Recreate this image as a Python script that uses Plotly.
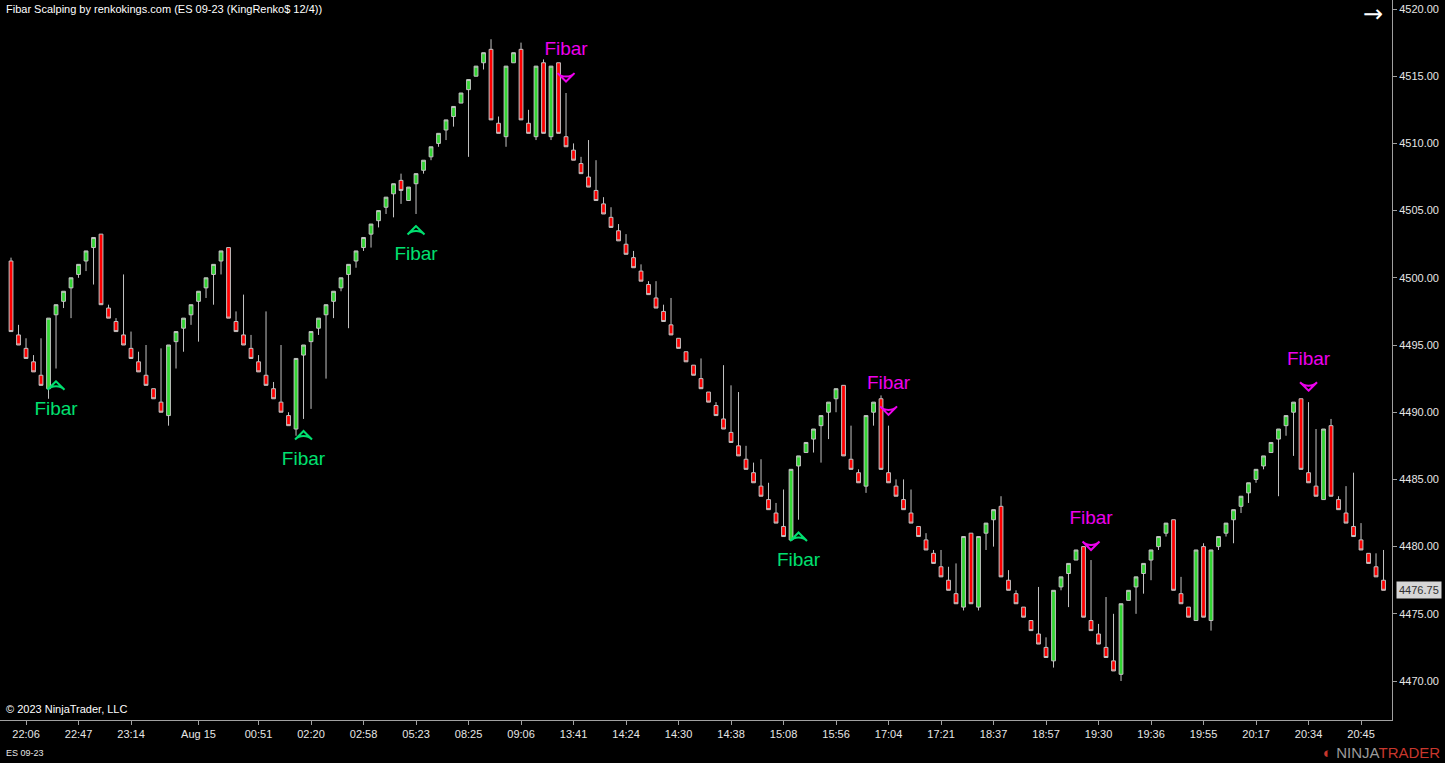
import plotly.graph_objects as go

# ---- data ----
open_ = [4501.25, 4495.75, 4494.75, 4493.75, 4492.75, 4491.75, 4497.25, 4498.25, 4499.25, 4500.25,
         4501.25, 4502.25, 4503.25, 4497.75, 4496.75, 4495.75, 4494.75, 4493.75, 4492.75, 4491.75,
         4490.75, 4489.75, 4495.25, 4496.25, 4497.25, 4498.25, 4499.25, 4500.25, 4501.25, 4502.25,
         4496.75, 4495.75, 4494.75, 4493.75, 4492.75, 4491.75, 4490.75, 4489.75, 4488.75, 4494.25,
         4495.25, 4496.25, 4497.25, 4498.25, 4499.25, 4500.25, 4501.25, 4502.25, 4503.25, 4504.25,
         4505.25, 4506.25, 4507.25, 4505.75, 4507.0, 4508.0, 4509.0, 4510.0, 4511.0, 4512.0,
         4513.0, 4514.0, 4515.0, 4516.0, 4517.0, 4511.5, 4510.5, 4516.0, 4517.0, 4511.5,
         4510.5, 4516.0, 4510.5, 4516.0, 4510.5, 4509.5, 4508.5, 4507.5, 4506.5, 4505.5,
         4504.5, 4503.5, 4502.5, 4501.5, 4500.5, 4499.5, 4498.5, 4497.5, 4496.5, 4495.5,
         4494.5, 4493.5, 4492.5, 4491.5, 4490.5, 4489.5, 4488.5, 4487.5, 4486.5, 4485.5,
         4484.5, 4483.5, 4482.5, 4481.5, 4480.5, 4486.0, 4487.0, 4488.0, 4489.0, 4490.0,
         4491.0, 4492.0, 4486.5, 4485.5, 4484.5, 4490.0, 4491.0, 4485.5, 4484.5, 4483.5,
         4482.5, 4481.5, 4480.5, 4479.5, 4478.5, 4477.5, 4476.5, 4475.5, 4481.0, 4475.5,
         4481.0, 4482.0, 4483.0, 4477.5, 4476.5, 4475.5, 4474.5, 4473.5, 4472.5, 4471.5,
         4477.0, 4478.0, 4479.0, 4480.0, 4474.5, 4473.5, 4472.5, 4471.5, 4470.5, 4476.0,
         4477.0, 4478.0, 4479.0, 4480.0, 4481.0, 4482.0, 4476.5, 4475.5, 4474.5, 4480.0,
         4474.5, 4480.0, 4481.0, 4482.0, 4483.0, 4484.0, 4485.0, 4486.0, 4487.0, 4488.0,
         4489.0, 4490.0, 4491.0, 4485.5, 4484.5, 4483.5, 4489.0, 4483.5, 4482.5, 4481.5,
         4480.5, 4479.5, 4478.5, 4477.5]
high = [4501.5, 4496.5, 4495.5, 4494.25, 4495.5, 4497.0, 4498.0, 4499.0, 4500.0, 4501.0,
        4502.0, 4503.0, 4503.25, 4498.0, 4497.0, 4500.25, 4496.0, 4494.5, 4495.0, 4491.75,
        4494.75, 4495.0, 4496.0, 4497.0, 4498.0, 4499.0, 4500.0, 4501.0, 4502.0, 4502.25,
        4497.5, 4498.75, 4495.75, 4494.25, 4497.5, 4492.25, 4495.0, 4490.0, 4494.0, 4495.0,
        4496.0, 4497.0, 4498.0, 4499.0, 4500.0, 4501.0, 4502.0, 4503.0, 4504.0, 4505.0,
        4506.0, 4507.0, 4507.75, 4506.75, 4507.75, 4508.75, 4509.75, 4510.75, 4511.75, 4512.75,
        4513.75, 4514.75, 4515.75, 4516.75, 4517.75, 4512.0, 4515.75, 4516.75, 4517.5, 4512.5,
        4515.75, 4516.25, 4515.75, 4516.0, 4513.75, 4510.0, 4509.0, 4510.25, 4508.75, 4506.0,
        4505.25, 4504.0, 4503.25, 4502.0, 4501.0, 4499.75, 4499.75, 4498.0, 4498.5, 4495.5,
        4494.5, 4493.5, 4494.0, 4491.5, 4490.75, 4493.5, 4492.0, 4491.5, 4487.5, 4486.25,
        4486.5, 4484.75, 4483.25, 4484.25, 4485.75, 4486.75, 4487.75, 4488.75, 4489.75, 4490.75,
        4491.75, 4492.0, 4489.0, 4485.75, 4489.75, 4490.75, 4491.25, 4489.0, 4485.0, 4485.0,
        4484.25, 4481.5, 4481.0, 4479.75, 4479.75, 4478.5, 4478.75, 4480.75, 4481.0, 4480.75,
        4481.75, 4482.75, 4483.75, 4478.25, 4476.75, 4475.5, 4474.5, 4477.0, 4473.25, 4476.75,
        4477.75, 4478.75, 4479.75, 4480.0, 4479.0, 4474.25, 4476.25, 4475.0, 4475.75, 4476.75,
        4477.75, 4478.75, 4479.75, 4480.75, 4481.75, 4482.0, 4477.75, 4475.5, 4479.75, 4480.25,
        4479.75, 4480.75, 4481.75, 4482.75, 4483.75, 4484.75, 4485.75, 4486.75, 4487.75, 4488.75,
        4489.75, 4490.75, 4491.0, 4490.75, 4488.75, 4488.75, 4489.5, 4483.75, 4484.5, 4485.5,
        4481.75, 4479.5, 4479.5, 4479.75]
low = [4496.0, 4495.0, 4494.0, 4493.0, 4492.0, 4491.0, 4493.25, 4497.75, 4497.0, 4500.0,
       4500.5, 4499.5, 4498.0, 4497.0, 4496.0, 4495.0, 4494.0, 4493.0, 4492.0, 4491.0,
       4490.0, 4489.0, 4493.25, 4494.5, 4496.5, 4495.25, 4498.5, 4498.0, 4500.25, 4497.0,
       4496.0, 4495.0, 4494.0, 4493.0, 4492.0, 4491.0, 4490.0, 4489.0, 4488.25, 4489.5,
       4490.25, 4495.75, 4492.5, 4497.0, 4499.0, 4496.25, 4500.75, 4502.0, 4502.25, 4503.75,
       4504.75, 4504.5, 4505.5, 4505.75, 4504.75, 4507.75, 4508.75, 4509.75, 4510.25, 4511.25,
       4513.0, 4509.0, 4515.0, 4515.5, 4511.75, 4510.75, 4509.75, 4516.0, 4511.75, 4510.75,
       4510.25, 4510.75, 4510.25, 4510.75, 4509.75, 4508.75, 4507.75, 4506.75, 4505.75, 4504.75,
       4503.75, 4502.75, 4501.75, 4500.75, 4499.75, 4498.75, 4497.75, 4496.75, 4495.75, 4494.75,
       4493.75, 4492.75, 4491.75, 4490.75, 4489.75, 4488.75, 4487.75, 4486.75, 4485.75, 4484.75,
       4483.75, 4482.75, 4481.75, 4480.75, 4480.5, 4482.0, 4487.0, 4487.0, 4486.25, 4488.0,
       4490.0, 4486.75, 4485.75, 4484.75, 4484.0, 4489.0, 4485.75, 4484.75, 4483.75, 4482.75,
       4481.75, 4480.75, 4479.75, 4478.75, 4477.75, 4476.75, 4475.75, 4475.25, 4475.75, 4475.25,
       4479.75, 4480.0, 4477.75, 4476.75, 4475.75, 4474.75, 4473.75, 4472.75, 4471.75, 4471.0,
       4476.75, 4475.5, 4479.0, 4474.75, 4473.75, 4472.75, 4471.75, 4470.75, 4470.0, 4476.0,
       4475.0, 4476.5, 4477.5, 4479.75, 4480.75, 4476.75, 4475.75, 4474.75, 4474.5, 4474.75,
       4473.75, 4479.75, 4480.75, 4480.25, 4482.5, 4483.25, 4484.75, 4485.75, 4487.0, 4483.75,
       4488.25, 4486.75, 4485.75, 4484.75, 4483.75, 4483.5, 4483.75, 4482.75, 4481.75, 4480.75,
       4479.75, 4478.75, 4477.75, 4476.75]
close = [4496.0, 4495.0, 4494.0, 4493.0, 4492.0, 4497.0, 4498.0, 4499.0, 4500.0, 4501.0,
         4502.0, 4503.0, 4498.0, 4497.0, 4496.0, 4495.0, 4494.0, 4493.0, 4492.0, 4491.0,
         4490.0, 4495.0, 4496.0, 4497.0, 4498.0, 4499.0, 4500.0, 4501.0, 4502.0, 4497.0,
         4496.0, 4495.0, 4494.0, 4493.0, 4492.0, 4491.0, 4490.0, 4489.0, 4494.0, 4495.0,
         4496.0, 4497.0, 4498.0, 4499.0, 4500.0, 4501.0, 4502.0, 4503.0, 4504.0, 4505.0,
         4506.0, 4507.0, 4506.5, 4506.75, 4507.75, 4508.75, 4509.75, 4510.75, 4511.75, 4512.75,
         4513.75, 4514.75, 4515.75, 4516.75, 4511.75, 4510.75, 4515.75, 4516.75, 4511.75, 4510.75,
         4515.75, 4510.75, 4515.75, 4510.75, 4509.75, 4508.75, 4507.75, 4506.75, 4505.75, 4504.75,
         4503.75, 4502.75, 4501.75, 4500.75, 4499.75, 4498.75, 4497.75, 4496.75, 4495.75, 4494.75,
         4493.75, 4492.75, 4491.75, 4490.75, 4489.75, 4488.75, 4487.75, 4486.75, 4485.75, 4484.75,
         4483.75, 4482.75, 4481.75, 4480.75, 4485.75, 4486.75, 4487.75, 4488.75, 4489.75, 4490.75,
         4491.75, 4486.75, 4485.75, 4484.75, 4489.75, 4490.75, 4485.75, 4484.75, 4483.75, 4482.75,
         4481.75, 4480.75, 4479.75, 4478.75, 4477.75, 4476.75, 4475.75, 4480.75, 4475.75, 4480.75,
         4481.75, 4482.75, 4477.75, 4476.75, 4475.75, 4474.75, 4473.75, 4472.75, 4471.75, 4476.75,
         4477.75, 4478.75, 4479.75, 4474.75, 4473.75, 4472.75, 4471.75, 4470.75, 4475.75, 4476.75,
         4477.75, 4478.75, 4479.75, 4480.75, 4481.75, 4476.75, 4475.75, 4474.75, 4479.75, 4474.75,
         4479.75, 4480.75, 4481.75, 4482.75, 4483.75, 4484.75, 4485.75, 4486.75, 4487.75, 4488.75,
         4489.75, 4490.75, 4485.75, 4484.75, 4483.75, 4488.75, 4483.75, 4482.75, 4481.75, 4480.75,
         4479.75, 4478.75, 4477.75, 4476.75]

tick_idx = [2, 9, 16, 25, 33, 40, 47, 54, 61, 68, 75, 82, 89, 96, 103, 110, 117, 124, 131,
            138, 145, 152, 159, 166, 173, 180]
tick_text = ["22:06", "22:47", "23:14", "Aug 15", "00:51", "02:20", "02:58", "05:23", "08:25",
             "09:06", "13:41", "14:24", "14:30", "14:38", "15:08", "15:56", "17:04", "17:21",
             "18:37", "18:57", "19:30", "19:36", "19:55", "20:17", "20:34", "20:45"]

buy_idx = [6, 39, 54, 105]
buy_arrow = [4492.3, 4488.6, 4503.85, 4481.05]
buy_text = [4490.16, 4486.44, 4501.70, 4478.93]
sell_idx = [74, 117, 144, 173]
sell_arrow = [4514.6, 4489.8, 4479.75, 4491.6]
sell_text = [4516.90, 4492.10, 4482.05, 4493.88]

last_price = 4476.75

GREEN_SIG = "#00E070"
MAGENTA = "#EE00EE"
FONT = "Liberation Sans, Arial, sans-serif"

x = list(range(len(close)))

fig = go.Figure()
fig.add_trace(go.Candlestick(
    x=x, open=open_, high=high, low=low, close=close,
    increasing=dict(fillcolor="#33D633", line=dict(color="#C4C4C4", width=1)),
    decreasing=dict(fillcolor="#FF0000", line=dict(color="#C4C4C4", width=1)),
    whiskerwidth=0, showlegend=False, hoverinfo="skip",
))

fig.add_trace(go.Scatter(
    x=buy_idx, y=buy_arrow, mode="markers", showlegend=False, hoverinfo="skip",
    marker=dict(symbol="arrow-wide-open", size=12, angle=0, color=GREEN_SIG,
                line=dict(width=2, color=GREEN_SIG)),
))
fig.add_trace(go.Scatter(
    x=buy_idx, y=buy_text, mode="text", text=["Fibar"] * len(buy_idx),
    textfont=dict(family=FONT, size=19, color=GREEN_SIG), showlegend=False, hoverinfo="skip",
))
fig.add_trace(go.Scatter(
    x=sell_idx, y=sell_arrow, mode="markers", showlegend=False, hoverinfo="skip",
    marker=dict(symbol="arrow-wide-open", size=12, angle=180, color=MAGENTA,
                line=dict(width=2, color=MAGENTA)),
))
fig.add_trace(go.Scatter(
    x=sell_idx, y=sell_text, mode="text", text=["Fibar"] * len(sell_idx),
    textfont=dict(family=FONT, size=19, color=MAGENTA), showlegend=False, hoverinfo="skip",
))

fig.update_layout(
    width=1445, height=763,
    margin=dict(l=0, r=53, t=0, b=43),
    paper_bgcolor="#000000", plot_bgcolor="#000000",
    font=dict(family=FONT, color="#E6E6E6", size=11),
    boxgap=0.28,
    xaxis=dict(
        range=[-1.47, 184.13], rangeslider=dict(visible=False),
        showgrid=False, zeroline=False,
        showline=True, linecolor="#A0A0A0", linewidth=1, mirror=False,
        ticks="outside", ticklen=4, tickcolor="#A0A0A0",
        tickvals=tick_idx, ticktext=tick_text,
        tickfont=dict(size=11, color="#E6E6E6"),
    ),
    yaxis=dict(
        side="right", range=[4467.1, 4520.67],
        showgrid=False, zeroline=False,
        showline=True, linecolor="#A0A0A0", linewidth=1,
        ticks="outside", ticklen=4, tickcolor="#A0A0A0",
        dtick=5, tick0=4470, tickformat=".2f",
        tickfont=dict(size=11, color="#E6E6E6"),
    ),
    annotations=[
        dict(text="Fibar Scalping by renkokings.com (ES 09-23 (KingRenko$ 12/4))",
             xref="paper", yref="paper", x=0.003, y=0.999, xanchor="left", yanchor="top",
             showarrow=False, font=dict(size=11, color="#FFFFFF")),
        dict(text="© 2023 NinjaTrader, LLC", xref="paper", yref="paper", x=0.003, y=0.0,
             xanchor="left", yanchor="bottom", yshift=3, showarrow=False,
             font=dict(size=11, color="#FFFFFF")),
        dict(text="ES 09-23", xref="paper", yref="paper", x=0.003, y=0.0,
             xanchor="left", yanchor="top", yshift=-26, showarrow=False,
             font=dict(size=9, color="#E6E6E6")),
        dict(text="<span style='color:#C8372D'>◐</span> <span style='color:#9A9A9A'>NINJA</span><span style='color:#C8372D'>TRADER</span>",
             xref="paper", yref="paper", x=1.036, y=0.0, xanchor="right", yanchor="top",
             yshift=-22, showarrow=False, font=dict(size=15)),
        dict(text="→", xref="paper", yref="paper", x=0.986, y=1.0, xanchor="center",
             yanchor="top", yshift=2, showarrow=False,
             font=dict(family="DejaVu Sans, sans-serif", size=24, color="#FFFFFF")),
        dict(text=f"{last_price:.2f}", xref="paper", yref="y", x=1.0, y=last_price,
             xanchor="left", yanchor="middle", xshift=4, showarrow=False,
             bgcolor="#D6D6D6", borderpad=2, font=dict(size=11, color="#303030")),
    ],
)

fig.write_html("out.html", config={"displayModeBar": False},
               post_script="document.body.style.margin='0';document.body.style.background='#000';")
